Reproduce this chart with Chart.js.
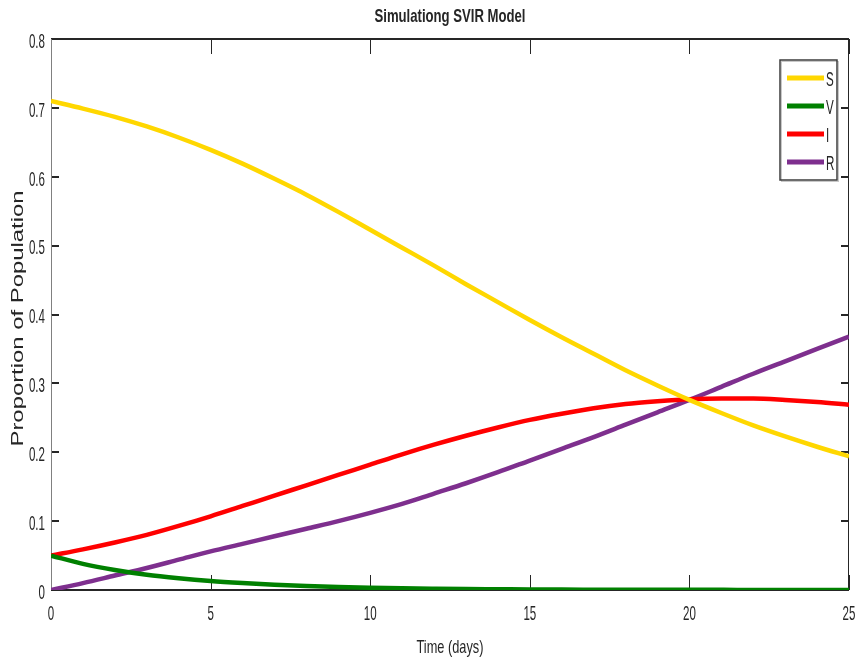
<!DOCTYPE html>
<html>
<head>
<meta charset="utf-8">
<script src="https://cdn.jsdelivr.net/npm/chart.js@4.4.1/dist/chart.umd.min.js"></script>
<style>
  html, body { margin: 0; padding: 0; background: #fff; }
  #wrap { width: 858px; height: 663px; }
</style>
</head>
<body>
<div id="wrap"><canvas id="svirChart" width="858" height="663"></canvas></div>
<script>
// time in days
const days = [0, 1, 2, 3, 4, 5, 6, 7, 8, 9, 10, 11, 12, 13, 14, 15, 16, 17, 18, 19, 20, 21, 22, 23, 24, 25];

// values
const susceptible = [0.710, 0.699, 0.687, 0.673, 0.657, 0.639, 0.619, 0.597, 0.574, 0.549, 0.523, 0.497, 0.471,
    0.444, 0.418, 0.392, 0.367, 0.343, 0.319, 0.297, 0.276, 0.257, 0.239, 0.223, 0.208, 0.194];
const vaccinated = [0.050, 0.038, 0.029, 0.022, 0.017, 0.013, 0.010, 0.0075, 0.0057, 0.0043, 0.0033, 0.0025, 0.0019,
    0.0014, 0.0011, 0.0008, 0.0006, 0.0005, 0.0004, 0.0003, 0.0002, 0.0002, 0.0001, 0.0001, 0.0001, 0.0001];
const infected = [0.050, 0.059, 0.069, 0.080, 0.093, 0.107, 0.122, 0.137, 0.152, 0.167, 0.182, 0.197, 0.211,
    0.224, 0.236, 0.247, 0.256, 0.264, 0.270, 0.274, 0.277, 0.278, 0.278, 0.276, 0.273, 0.269];
const recovered = [0.000, 0.010, 0.021, 0.032, 0.044, 0.056, 0.067, 0.078, 0.089, 0.100, 0.112, 0.125, 0.140,
    0.155, 0.171, 0.188, 0.205, 0.222, 0.240, 0.258, 0.276, 0.295, 0.314, 0.332, 0.350, 0.368];

const seriesLabels = ['S', 'V', 'I', 'R'];
const seriesColors = ['#FFD700', '#008000', '#FF0000', '#7E2F8E'];

const xTicks = [0, 5, 10, 15, 20, 25];
const xTickLabels = ['0', '5', '10', '15', '20', '25'];
const yTicks = [0, 0.1, 0.2, 0.3, 0.4, 0.5, 0.6, 0.7, 0.8];
const yTickLabels = ['0', '0.1', '0.2', '0.3', '0.4', '0.5', '0.6', '0.7', '0.8'];

const titleText = 'Simulationg SVIR Model';
const xTitleText = 'Time (days)';
const yTitleText = 'Proportion of Population';

const sans = "'Liberation Sans', Arial, Helvetica, sans-serif";
const ink = '#262626';

const allSeries = [susceptible, vaccinated, infected, recovered];

function toPoints(ys) {
    return days.map((d, i) => ({ x: d, y: ys[i] }));
}

// the reference text is tall and narrow, so squeeze it horizontally
function squeezedText(ctx, text, x, y, font, sx, align) {
    ctx.save();
    ctx.font = font;
    ctx.textAlign = align || 'center';
    ctx.textBaseline = 'middle';
    ctx.fillStyle = ink;
    ctx.translate(x, y);
    ctx.scale(sx, 1);
    ctx.fillText(text, 0, 0);
    ctx.restore();
}

function textWidth(ctx, text, font) {
    ctx.save();
    ctx.font = font;
    const w = ctx.measureText(text).width;
    ctx.restore();
    return w;
}

// box + inward ticks, drawn under the curves like MATLAB does
const framePlugin = {
    id: 'frame',
    beforeDatasetsDraw(chart) {
        const { ctx, chartArea: a, scales } = chart;
        ctx.save();
        ctx.strokeStyle = ink;
        ctx.lineWidth = 1;
        scales.x.ticks.forEach(t => {
            const px = Math.round(scales.x.getPixelForValue(t.value)) + 0.5;
            ctx.beginPath();
            ctx.moveTo(px, a.bottom); ctx.lineTo(px, a.bottom - 15);
            ctx.moveTo(px, a.top); ctx.lineTo(px, a.top + 15);
            ctx.stroke();
        });
        ctx.lineWidth = 2;
        scales.y.ticks.forEach(t => {
            const py = Math.round(scales.y.getPixelForValue(t.value));
            ctx.beginPath();
            ctx.moveTo(a.left, py); ctx.lineTo(a.left + 8, py);
            ctx.moveTo(a.right, py); ctx.lineTo(a.right - 8, py);
            ctx.stroke();
        });
        ctx.beginPath();
        ctx.moveTo(a.left, a.top); ctx.lineTo(a.right, a.top);
        ctx.moveTo(a.left, a.bottom); ctx.lineTo(a.right, a.bottom);
        ctx.stroke();
        ctx.lineWidth = 1;
        ctx.strokeStyle = '#808080';
        ctx.beginPath();
        ctx.moveTo(a.left + 0.5, a.top); ctx.lineTo(a.left + 0.5, a.bottom);
        ctx.stroke();
        ctx.strokeStyle = ink;
        ctx.beginPath();
        ctx.moveTo(a.right - 0.5, a.top); ctx.lineTo(a.right - 0.5, a.bottom);
        ctx.stroke();
        ctx.restore();
    },
    afterDraw(chart) {
        const { ctx, chartArea: a, scales } = chart;
        const tickFont = '21px ' + sans;
        scales.x.ticks.forEach((t, i) => {
            squeezedText(ctx, xTickLabels[i], scales.x.getPixelForValue(t.value), 614, tickFont, 0.55);
        });
        scales.y.ticks.forEach((t, i) => {
            squeezedText(ctx, yTickLabels[i], 45, scales.y.getPixelForValue(t.value) + 3, tickFont, 0.55, 'right');
        });
        // chart title
        const titleFont = 'bold 19px ' + sans;
        squeezedText(ctx, titleText, (a.left + a.right) / 2, 17, titleFont, 151 / textWidth(ctx, titleText, titleFont));
        // x axis title
        const xFont = '19px ' + sans;
        squeezedText(ctx, xTitleText, (a.left + a.right) / 2, 648, xFont, 67 / textWidth(ctx, xTitleText, xFont));
        // y axis title, rotated and stretched along its length
        const yFont = '16px ' + sans;
        const yw = textWidth(ctx, yTitleText, yFont);
        ctx.save();
        ctx.font = yFont;
        ctx.translate(19, (a.top + a.bottom) / 2 + 4);
        ctx.rotate(-Math.PI / 2);
        ctx.scale(256 / yw, 1);
        ctx.fillStyle = ink;
        ctx.textAlign = 'center';
        ctx.textBaseline = 'middle';
        ctx.fillText(yTitleText, 0, 0);
        ctx.restore();
    }
};

// legend box in the upper right corner
const legendPlugin = {
    id: 'boxLegend',
    afterDatasetsDraw(chart) {
        const ctx = chart.ctx;
        const x0 = 780, y0 = 60, w = 57, h = 120;
        ctx.save();
        ctx.fillStyle = '#fff';
        ctx.fillRect(x0, y0, w, h);
        ctx.strokeStyle = '#c8c8c8';
        ctx.lineWidth = 1;
        ctx.strokeRect(x0 + 1.5, y0 + 1.5, w, h);
        ctx.strokeStyle = '#3c3c3c';
        ctx.lineWidth = 1.5;
        ctx.strokeRect(x0, y0, w, h);
        chart.data.datasets.forEach((ds, i) => {
            const ly = 78 + i * 28;
            ctx.strokeStyle = ds.borderColor;
            ctx.lineWidth = 5;
            ctx.beginPath();
            ctx.moveTo(787, ly); ctx.lineTo(824, ly);
            ctx.stroke();
            squeezedText(ctx, ds.label, 826, ly + 2, '20px ' + sans, 0.58, 'left');
        });
        ctx.restore();
    }
};

new Chart(document.getElementById('svirChart').getContext('2d'), {
    type: 'line',
    data: {
        datasets: allSeries.map((ys, i) => ({
            label: seriesLabels[i],
            data: toPoints(ys),
            borderColor: seriesColors[i],
            backgroundColor: seriesColors[i],
            borderWidth: 4.5,
            pointRadius: 0,
            cubicInterpolationMode: 'monotone',
            fill: false
        }))
    },
    options: {
        responsive: false,
        animation: false,
        events: [],
        layout: { padding: { left: 0, right: 9, top: 39, bottom: 0 } },
        plugins: {
            legend: { display: false },
            tooltip: { enabled: false },
            title: { display: false }
        },
        scales: {
            x: {
                type: 'linear',
                min: 0,
                max: 25,
                afterBuildTicks: s => { s.ticks = xTicks.map(v => ({ value: v })); },
                afterFit: s => { s.height = 73; s.paddingLeft = 0; s.paddingRight = 0; },
                grid: { display: false, drawTicks: false },
                border: { display: false },
                ticks: { display: false }
            },
            y: {
                min: 0,
                max: 0.8,
                afterBuildTicks: s => { s.ticks = yTicks.map(v => ({ value: v })); },
                afterFit: s => { s.width = 51; s.paddingTop = 0; s.paddingBottom = 0; },
                grid: { display: false, drawTicks: false },
                border: { display: false },
                ticks: { display: false }
            }
        }
    },
    plugins: [framePlugin, legendPlugin]
});
</script>
</body>
</html>
